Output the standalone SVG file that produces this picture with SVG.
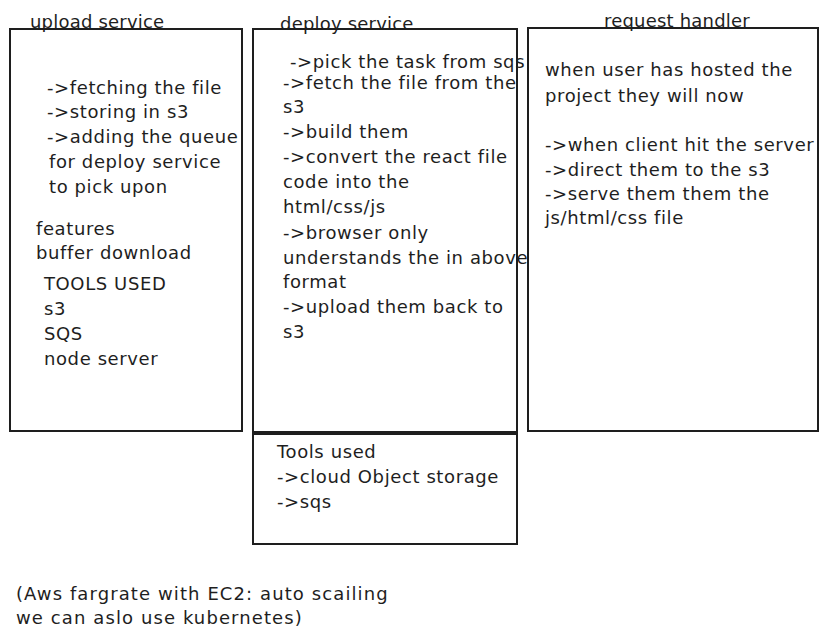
<svg xmlns="http://www.w3.org/2000/svg" width="828" height="641" viewBox="0 0 828 641">
<style>
.box{fill:none;stroke:#1e1e1e;stroke-width:2}
text{font-family:"DejaVu Sans","Liberation Sans",sans-serif;font-size:18px;letter-spacing:0.6px;fill:#1e1e1e}
text.title{letter-spacing:0.2px}
text.note{letter-spacing:1.1px}
</style>
<rect width="828" height="641" fill="#ffffff"/>
<g id="upload-service">
<rect class="box" x="10" y="29" width="232" height="402"/>
<text class="title" x="30" y="28">upload service</text>
<text x="47" y="94">-&gt;fetching the file</text>
<text x="47" y="118">-&gt;storing in s3</text>
<text x="47" y="143">-&gt;adding the queue</text>
<text x="49" y="168">for deploy service</text>
<text x="49" y="193">to pick upon</text>
<text x="36" y="235">features</text>
<text x="36" y="259">buffer download</text>
<text x="44" y="290">TOOLS USED</text>
<text x="44" y="315">s3</text>
<text x="44" y="340">SQS</text>
<text x="44" y="365">node server</text>
</g>
<g id="deploy-service">
<rect class="box" x="253" y="29" width="264" height="403"/>
<text class="title" x="280" y="30">deploy service</text>
<text x="290" y="68">-&gt;pick the task from sqs</text>
<text x="283" y="89">-&gt;fetch the file from the</text>
<text x="283" y="113">s3</text>
<text x="283" y="138">-&gt;build them</text>
<text x="283" y="163">-&gt;convert the react file</text>
<text x="283" y="188">code into the</text>
<text x="283" y="213">html/css/js</text>
<text x="283" y="239">-&gt;browser only</text>
<text x="283" y="264">understands the in above</text>
<text x="283" y="288">format</text>
<text x="283" y="313">-&gt;upload them back to</text>
<text x="283" y="338">s3</text>
</g>
<g id="request-handler">
<rect class="box" x="528" y="28" width="290" height="403"/>
<text class="title" x="604" y="27">request handler</text>
<text x="545" y="76">when user has hosted the</text>
<text x="545" y="102">project they will now</text>
<text x="545" y="151">-&gt;when client hit the server</text>
<text x="545" y="176">-&gt;direct them to the s3</text>
<text x="545" y="200">-&gt;serve them them the</text>
<text x="545" y="224">js/html/css file</text>
</g>
<g id="tools-used">
<rect class="box" x="253" y="434" width="264" height="110"/>
<text x="277" y="458">Tools used</text>
<text x="277" y="483">-&gt;cloud Object storage</text>
<text x="277" y="508">-&gt;sqs</text>
</g>
<g id="note">
<text class="note" x="16" y="600">(Aws fargrate with EC2: auto scailing</text>
<text class="note" x="16" y="624">we can aslo use kubernetes)</text>
</g>
<g id="connectors"></g>
</svg>
